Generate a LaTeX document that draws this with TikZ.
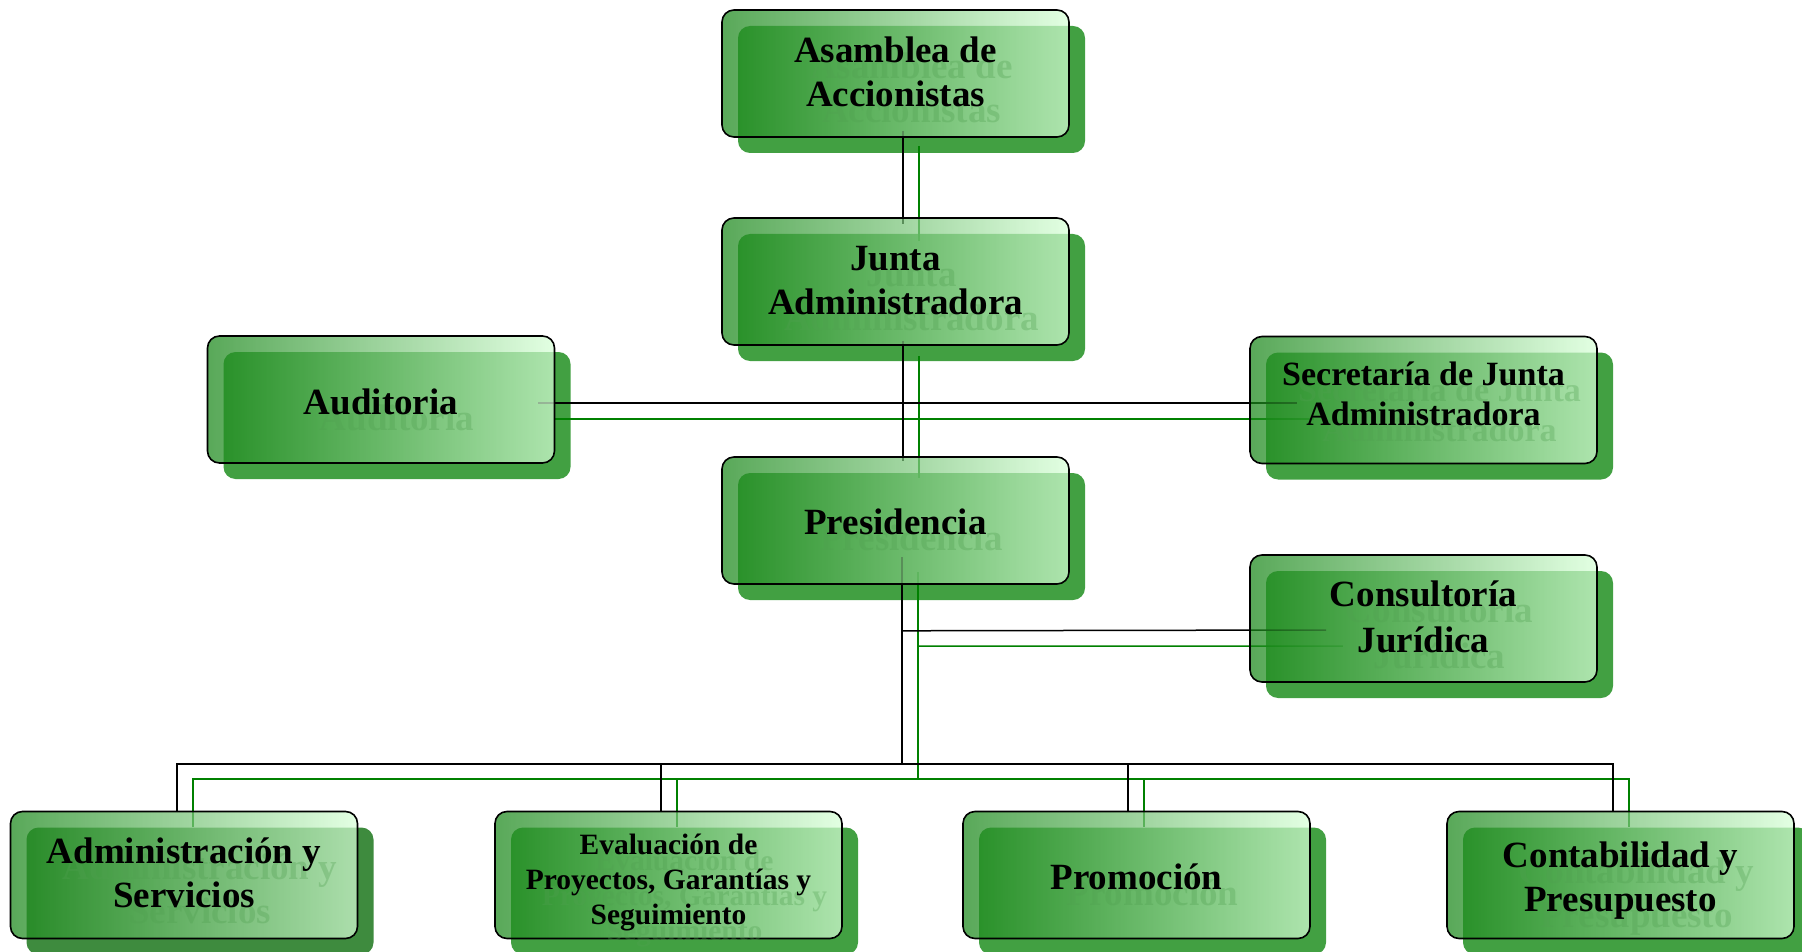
\documentclass[tikz,border=0pt]{standalone}
\usepackage{fontspec}
\setmainfont{Liberation Serif}
\usetikzlibrary{calc}
\definecolor{shad}{RGB}{66,160,66}
\definecolor{shadd}{RGB}{62,139,62}
\definecolor{frontL}{RGB}{25,135,25}
\definecolor{frontR}{RGB}{215,255,215}
\definecolor{lgreen}{RGB}{0,128,0}
\definecolor{ghostc}{RGB}{80,160,80}
\pgfdeclarelayer{back}
\pgfdeclarelayer{lines}
\pgfdeclarelayer{top}
\pgfsetlayers{back,lines,main,top}
\tikzset{
  boxsize/.style={minimum width=347pt, minimum height=127pt, rounded corners=12pt, inner sep=0pt},
  shadowbox/.style={boxsize, fill=shad},
  frontbox/.style={boxsize, draw=black, line width=1.6pt, left color=frontL, right color=frontR, fill opacity=0.72},
  lbl/.style={align=center, inner sep=0pt, font=\fontsize{37}{44}\selectfont\bfseries},
  lblsec/.style={lbl, font=\fontsize{34}{40}\selectfont\bfseries},
  lblcon/.style={lbl, font=\fontsize{37}{46}\selectfont\bfseries},
  lblev/.style={lbl, font=\fontsize{29.5}{35}\selectfont\bfseries},
  ghost/.style={text=ghostc, text opacity=0.32},
  conn/.style={line width=1.5pt},
}
\newcommand\orgconn[1]{%
  \draw ($(asam#1.south)+(7.5,-7)$) -- ($(junta#1.north)+(7.5,7)$);
  \draw ($(junta#1.south)+(7.5,-5)$) -- ($(presid#1.north)+(7.5,5)$);
  \draw ($(audit#1.east)+(-17,3.5)$) -- ($(secre#1.west)+(48,3)$);
  \coordinate (bus#1) at ($(presid#1.south)+(6.5,179)$);
  \draw ($(presid#1.south)+(6.5,-28)$) -- (bus#1);
  \draw ($(presid#1.south)+(6.5,46)$) -- ($(consul#1.west)+(77,11.5)$);
  \draw (bus#1) -| ($(adm#1.north)+(-7,0)$);
  \draw (bus#1) -| ($(eval#1.north)+(-7.5,0)$);
  \draw (bus#1) -| ($(promo#1.north)+(-8.5,0)$);
  \draw (bus#1) -| ($(conta#1.north)+(-7.5,0)$);
}
\begin{document}
\begin{tikzpicture}[x=1pt,y=-1pt]
\useasboundingbox (0,0) rectangle (1802,952);
% shadow layer
\begin{pgfonlayer}{back}
\node[shadowbox] (asam-s) at (911.5,89.5) {};
\node[shadowbox] (junta-s) at (911.5,297.5) {};
\node[shadowbox] (presid-s) at (911.5,536.5) {};
\node[shadowbox] (audit-s) at (397,415.5) {};
\node[shadowbox] (secre-s) at (1439.5,416) {};
\node[shadowbox] (consul-s) at (1439.5,634.5) {};
\node[shadowbox, fill=shadd] (adm-s) at (200,891) {};
\node[shadowbox] (eval-s) at (684.5,891) {};
\node[shadowbox] (promo-s) at (1152.5,891) {};
\node[shadowbox] (conta-s) at (1636.5,891) {};
\end{pgfonlayer}
% front boxes
\node[frontbox] (asam) at (895.5,73.5) {};
\node[frontbox] (junta) at (895.5,281.5) {};
\node[frontbox] (presid) at (895.5,520.5) {};
\node[frontbox] (audit) at (381,399.5) {};
\node[frontbox] (secre) at (1423.5,400) {};
\node[frontbox] (consul) at (1423.5,618.5) {};
\node[frontbox] (adm) at (184,875) {};
\node[frontbox] (eval) at (668.5,875) {};
\node[frontbox] (promo) at (1136.5,875) {};
\node[frontbox] (conta) at (1620.5,875) {};
% connectors beneath the front boxes
\begin{pgfonlayer}{lines}
\begin{scope}[lgreen, conn]
\orgconn{-s}
\end{scope}
\begin{scope}[black, conn]
\orgconn{}
\end{scope}
\end{pgfonlayer}
% texts
\begin{pgfonlayer}{top}
\node[lbl, ghost, yshift=2pt] (asam-g) at (asam-s) {Asamblea de\\Accionistas};
\node[lbl, ghost, yshift=1pt] (junta-g) at (junta-s) {Junta\\Administradora};
\node[lbl, ghost, yshift=-1pt] (presid-g) at (presid-s) {Presidencia};
\node[lbl, ghost, yshift=-2pt] (audit-g) at (audit-s) {Auditoria};
\node[lblsec, ghost, yshift=6pt] (secre-g) at (secre-s) {Secretaría de Junta\\Administradora};
\node[lblcon, ghost, yshift=2pt] (consul-g) at (consul-s) {Consultoría\\Jurídica};
\node[lbl, ghost, yshift=2pt] (adm-g) at (adm-s) {Administración y\\Servicios};
\node[lblev, ghost, yshift=-7pt] (eval-g) at (eval-s) {Evaluación de\\Proyectos, Garantías y\\Seguimiento};
\node[lbl, ghost, yshift=-2pt] (promo-g) at (promo-s) {Promoción};
\node[lbl, ghost, yshift=-6pt] (conta-g) at (conta-s) {Contabilidad y\\Presupuesto};
\node[lbl, yshift=2pt] (asam-t) at (asam) {Asamblea de\\Accionistas};
\node[lbl, yshift=1pt] (junta-t) at (junta) {Junta\\Administradora};
\node[lbl, yshift=-1pt] (presid-t) at (presid) {Presidencia};
\node[lbl, yshift=-2pt] (audit-t) at (audit) {Auditoria};
\node[lblsec, yshift=6pt] (secre-t) at (secre) {Secretaría de Junta\\Administradora};
\node[lblcon, yshift=2pt] (consul-t) at (consul) {Consultoría\\Jurídica};
\node[lbl, yshift=2pt] (adm-t) at (adm) {Administración y\\Servicios};
\node[lblev, yshift=-7pt] (eval-t) at (eval) {Evaluación de\\Proyectos, Garantías y\\Seguimiento};
\node[lbl, yshift=-2pt] (promo-t) at (promo) {Promoción};
\node[lbl, yshift=-6pt] (conta-t) at (conta) {Contabilidad y\\Presupuesto};
\end{pgfonlayer}
\end{tikzpicture}
\end{document}
